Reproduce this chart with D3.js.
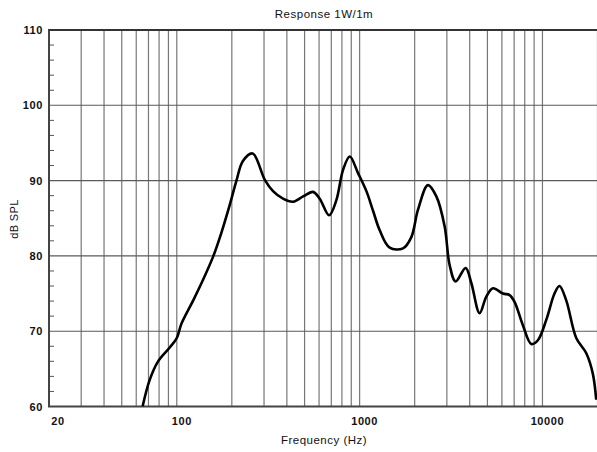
<!DOCTYPE html>
<html>
<head>
<meta charset="utf-8">
<script src="https://cdn.jsdelivr.net/npm/d3@7"></script>
<style>
	body { margin: 0; background: #fff; }
	svg { display: block; }
	text { font-family: "Liberation Sans", Arial, sans-serif; fill: #111; }
</style>
</head>
<body>
<svg id="chart" width="597" height="452"></svg>
<script>
// response curve (Hz, dB SPL)
var FREQ = [65, 71, 79, 92, 100, 106, 123, 139, 158, 176, 195, 212, 230, 260,
	303, 336, 381, 433, 491, 556, 605, 681, 746, 811, 883, 980, 1089, 1184, 1288,
	1460, 1726, 1918, 2084, 2364, 2628, 2918, 3106, 3350, 3800, 4082, 4530, 4930,
	5358, 6078, 6608, 7036, 7812, 8686, 9440, 10490, 11640, 12390, 13490, 15300,
	17340, 18840, 19680];
var SPL = [60.0, 63.5, 66.0, 67.9, 69.1, 71.0, 74.1, 76.8, 79.9, 83.2, 86.8, 90.0, 92.6, 93.6,
	90.1, 88.6, 87.6, 87.2, 87.9, 88.5, 87.6, 85.4, 87.4, 91.4, 93.2, 91.0, 88.6, 86.0, 83.4,
	81.1, 81.0, 82.5, 86.1, 89.4, 87.9, 83.9, 78.8, 76.6, 78.4, 76.4, 72.4, 74.6,
	75.7, 75.0, 74.8, 73.9, 70.8, 68.3, 68.8, 71.5, 75.0, 76.0, 74.1, 69.1,
	67.1, 64.4, 60.9];

var X_GRID = [20, 30, 40, 50, 60, 70, 80, 90, 100, 200, 300, 400, 500, 600, 700, 800, 900,
	1000, 2000, 3000, 4000, 5000, 6000, 7000, 8000, 9000, 10000, 20000];
var X_LABELS = [20, 100, 1000, 10000];
var Y_MAJOR = [60, 70, 80, 90, 100, 110];
var Y_MINOR = [62, 64, 66, 68, 72, 74, 76, 78, 82, 84, 86, 88, 92, 94, 96, 98, 102, 104, 106, 108];

var TITLE = "Response 1W/1m";
var X_TITLE = "Frequency (Hz)";
var Y_TITLE = "dB SPL";

var M = { left: 49, top: 30, right: 597.5, bottom: 406.5 };

var svg = d3.select("#chart");

var x = d3.scaleLog().domain([20, 20000]).range([M.left, M.right]);
var y = d3.scaleLinear().domain([60, 110]).range([M.bottom, M.top]);

// grid
var grid = svg.append("g").attr("class", "grid");
grid.selectAll("line.v").data(X_GRID).enter()
	.append("line")
	.attr("class", "v")
	.attr("x1", function(d) { return x(d); })
	.attr("x2", function(d) { return x(d); })
	.attr("y1", M.top)
	.attr("y2", M.bottom)
	.attr("stroke", "#777")
	.attr("stroke-width", 1.2);

grid.selectAll("line.h").data(Y_MAJOR).enter()
	.append("line")
	.attr("class", "h")
	.attr("x1", M.left)
	.attr("x2", M.right)
	.attr("y1", function(d) { return y(d); })
	.attr("y2", function(d) { return y(d); })
	.attr("stroke", "#5a5a5a")
	.attr("stroke-width", 1.1);

// minor ticks on the left axis (inside)
svg.append("g").selectAll("line").data(Y_MINOR).enter()
	.append("line")
	.attr("x1", M.left)
	.attr("x2", M.left + 5)
	.attr("y1", function(d) { return y(d); })
	.attr("y2", function(d) { return y(d); })
	.attr("stroke", "#555")
	.attr("stroke-width", 1);

// frame: top, left, bottom
svg.append("line").attr("x1", M.left - 1).attr("x2", M.right)
	.attr("y1", M.top).attr("y2", M.top)
	.attr("stroke", "#333").attr("stroke-width", 2);
svg.append("line").attr("x1", M.left).attr("x2", M.left)
	.attr("y1", M.top).attr("y2", M.bottom)
	.attr("stroke", "#444").attr("stroke-width", 2);
svg.append("line").attr("x1", M.left - 1).attr("x2", M.right)
	.attr("y1", M.bottom).attr("y2", M.bottom)
	.attr("stroke", "#444").attr("stroke-width", 2);

// curve
svg.append("clipPath").attr("id", "plotClip")
	.append("rect")
	.attr("x", M.left).attr("y", M.top)
	.attr("width", M.right - M.left).attr("height", M.bottom - M.top);

var points = FREQ.map(function(f, i) { return [f, SPL[i]]; });
var line = d3.line()
	.x(function(d) { return x(d[0]); })
	.y(function(d) { return y(d[1]); })
	.curve(d3.curveCatmullRom.alpha(0.5));

svg.append("path")
	.attr("d", line(points))
	.attr("clip-path", "url(#plotClip)")
	.attr("fill", "none")
	.attr("stroke", "#000")
	.attr("stroke-width", 2.6)
	.attr("stroke-linejoin", "round");

// tick labels
svg.append("g").selectAll("text").data(Y_MAJOR).enter()
	.append("text")
	.attr("x", 43)
	.attr("y", function(d) { return y(d) + 4; })
	.attr("text-anchor", "end")
	.attr("font-size", "11px")
	.attr("font-weight", "bold")
	.attr("letter-spacing", "0.6px")
	.text(function(d) { return d; });

svg.append("g").selectAll("text").data(X_LABELS).enter()
	.append("text")
	.attr("x", function(d) { return x(d) + (d == 20 ? 9 : 5); })
	.attr("y", 425)
	.attr("text-anchor", "middle")
	.attr("font-size", "11px")
	.attr("font-weight", "bold")
	.attr("letter-spacing", "0.6px")
	.text(function(d) { return d; });

// titles
svg.append("text")
	.attr("x", 324).attr("y", 18)
	.attr("text-anchor", "middle")
	.attr("font-size", "11.5px")
	.attr("letter-spacing", "0.5px")
	.text(TITLE);

svg.append("text")
	.attr("x", 324).attr("y", 444)
	.attr("text-anchor", "middle")
	.attr("font-size", "11.5px")
	.attr("letter-spacing", "0.5px")
	.text(X_TITLE);

svg.append("text")
	.attr("transform", "translate(18,219) rotate(-90)")
	.attr("text-anchor", "middle")
	.attr("font-size", "11px")
	.attr("letter-spacing", "0.4px")
	.text(Y_TITLE);
</script>
</body>
</html>
